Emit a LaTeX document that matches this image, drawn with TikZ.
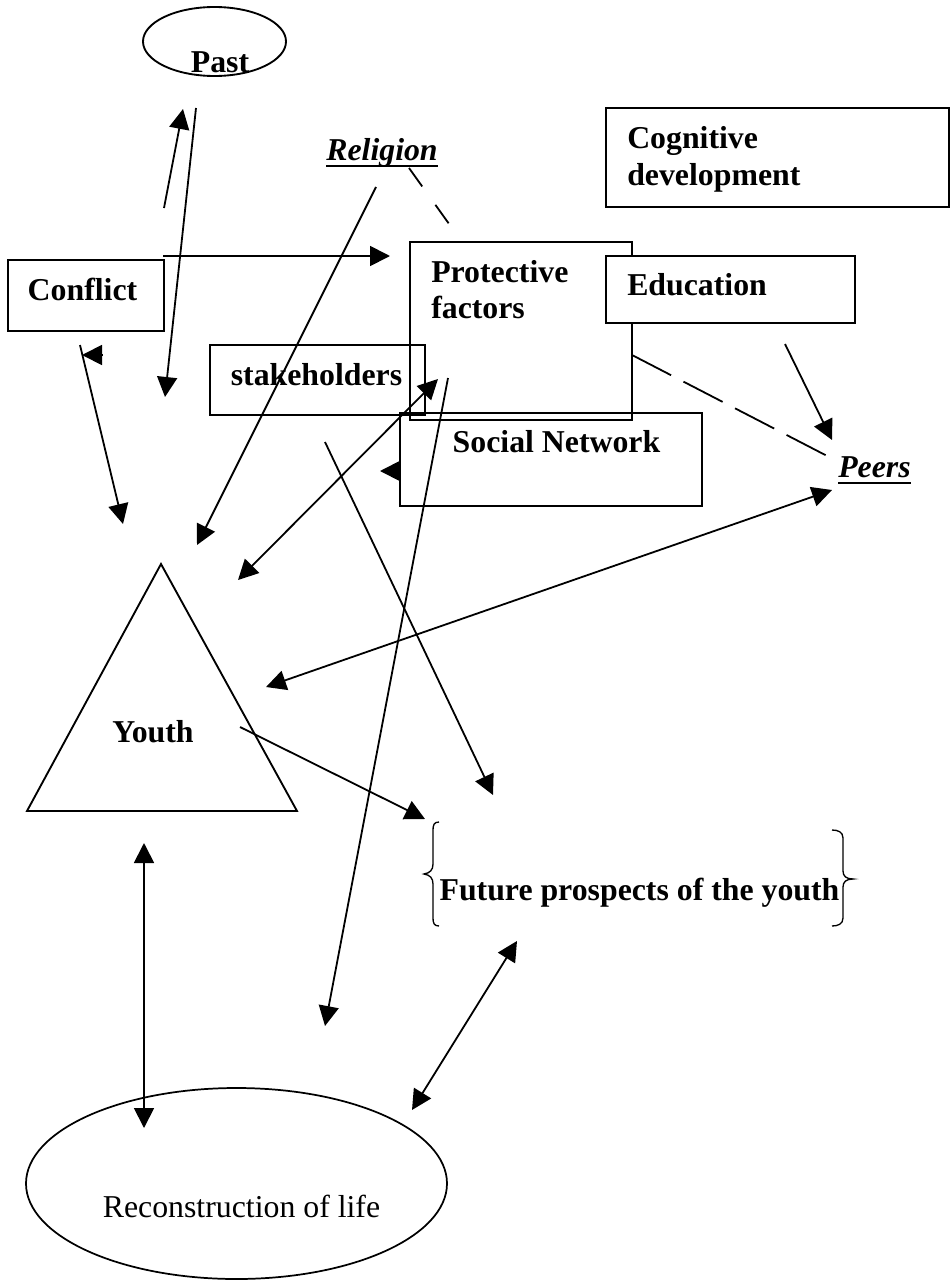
\documentclass[tikz,border=0pt]{standalone}
\usepackage{fontspec}
\setmainfont{Liberation Serif}
\usetikzlibrary{arrows.meta,shapes.geometric}
\newcommand\ulx[1]{\setbox0\hbox{#1}\rlap{\rule[-5.25pt]{\wd0}{1.6pt}}\box0}
\begin{document}
\begin{tikzpicture}[x=0.75pt,y=-0.75pt,
  lbl/.style={inner sep=0pt, font=\fontsize{23.85}{27}\selectfont\bfseries},
  plain/.style={inner sep=0pt, font=\fontsize{23.85}{27}\selectfont},
  box/.style={draw, line width=1.6pt, rectangle, inner sep=0pt},
  oval/.style={draw, line width=1.4pt, ellipse, inner sep=0pt},
  conn/.style={line width=1.35pt},
  arr/.style={conn, -{Triangle[length=15pt,width=15pt]}},
  darr/.style={conn, {Triangle[length=15pt,width=15pt]}-{Triangle[length=15pt,width=15pt]}},
  brace/.style={line width=1pt},
]
\useasboundingbox (0,0) rectangle (951,1281);

% ---- shapes ----
\node[oval, minimum width=107.25pt, minimum height=51.75pt] (past) at (214.5,41.5) {};
\node[box, minimum width=117pt, minimum height=53.25pt] (conflict) at (86,295.5) {};
\node[box, minimum width=257.25pt, minimum height=74.25pt] (cog) at (777.5,157.5) {};
\node[box, minimum width=166.5pt, minimum height=133.5pt] (prot) at (521,331) {};
\node[box, fill=white, minimum width=186.75pt, minimum height=50.25pt] (edu) at (730.5,289.5) {};
\node[box, minimum width=161.25pt, minimum height=52.5pt] (stk) at (317.5,380) {};
\node[box, minimum width=226.5pt, minimum height=69.75pt] (soc) at (551,459.5) {};
\coordinate (ytop) at (161,564);
\coordinate (yright) at (297,811);
\coordinate (yleft) at (27,811);
\draw[line width=1.4pt] (ytop) -- (yright) -- (yleft) -- cycle;
\node[oval, line width=1.3pt, minimum width=315.75pt, minimum height=143.25pt] (recon) at (236.5,1183.5) {};

% ---- texts ----
\node[lbl, anchor=base] (pastT) at (220,72.5) {Past};
\node[lbl, anchor=base] (religion) at (382,160) {\itshape\ulx{Religion}};
\node[lbl, anchor=base] (conflictT) at (82.5,300) {Conflict};
\node[lbl, anchor=base west] (cogT1) at (627,148) {Cognitive};
\node[lbl, anchor=base west] (cogT2) at (627,185) {development};
\node[lbl, anchor=base west] (protT1) at (431,282) {Protective};
\node[lbl, anchor=base west] (protT2) at (431,318) {factors};
\node[lbl, anchor=base west] (eduT) at (627,295) {Education};
\node[lbl, anchor=base] (stkT) at (316.5,385) {stakeholders};
\node[lbl, anchor=base] (socT) at (556.5,452) {Social Network};
\node[lbl, anchor=base] (peers) at (874.5,477) {\itshape\ulx{Peers}};
\node[lbl, anchor=base] (youth) at (153,742) {Youth};
\node[lbl, anchor=base] (future) at (639.5,900) {Future prospects of the youth};
\node[plain, anchor=base] (reconT) at (241.5,1217) {Reconstruction of life};

% ---- braces ----
\draw[brace] (439,822) .. controls (434,822) and (433,825) .. (433,830) -- (433,864)
  .. controls (433,870) and (430,873) .. (424,874)
  .. controls (430,875) and (433,878) .. (433,884) -- (433,918)
  .. controls (433,923) and (434,926) .. (439,926);
\draw[brace] (832,830) .. controls (838,830) and (843,832) .. (843,838) -- (843,871)
  .. controls (843,876) and (846,879) .. (853,879)
  .. controls (846,879) and (843,882) .. (843,887) -- (843,918)
  .. controls (843,924) and (838,926) .. (832,926);

% ---- connector end points ----
\coordinate (pastUpS) at (164,208);  \coordinate (pastUpE) at (183,109);
\coordinate (pastDnS) at (196,108);  \coordinate (pastDnE) at (165,397);
\coordinate (conflR) at (163,256);   \coordinate (protL) at (390,256);
\coordinate (conflD) at (80,345);    \coordinate (youthA) at (123,524);
\coordinate (headAs) at (102,355);   \coordinate (headAe) at (82,355);
\coordinate (relS) at (376,187);     \coordinate (youthB) at (197,545);
\coordinate (relD) at (409,168);     \coordinate (protTop) at (462,242);
\coordinate (stkE) at (438,379);     \coordinate (youthC) at (238,580);
\coordinate (protD) at (448,378);    \coordinate (reconA) at (325,1026);
\coordinate (headBs) at (400,471);   \coordinate (headBe) at (380,471);
\coordinate (stkD) at (325,442);     \coordinate (futA) at (493,795);
\coordinate (eduD) at (785,344);     \coordinate (peersA) at (832,440);
\coordinate (protR) at (632,355);    \coordinate (peersB) at (833,459);
\coordinate (peersC) at (832,490);   \coordinate (youthD) at (266,687);
\coordinate (youthE) at (240,727);   \coordinate (futB) at (425,819);
\coordinate (youthF) at (144,843);   \coordinate (reconB) at (144,1128);
\coordinate (futC) at (517,941);     \coordinate (reconC) at (412,1110);

% ---- connectors ----
\draw[arr] (pastUpS) -- (pastUpE);
\draw[arr] (pastDnS) -- (pastDnE);
\draw[arr] (conflR) -- (protL);
\draw[arr] (conflD) -- (youthA);
\draw[arr] (headAs) -- (headAe);
\draw[arr] (relS) -- (youthB);
\draw[conn, dash pattern=on 17pt off 17pt] (relD) -- (protTop);
\draw[darr] (stkE) -- (youthC);
\draw[arr] (protD) -- (reconA);
\draw[arr] (headBs) -- (headBe);
\draw[arr] (stkD) -- (futA);
\draw[arr] (eduD) -- (peersA);
\draw[conn, dash pattern=on 33pt off 10.5pt] (protR) -- (peersB);
\draw[darr] (peersC) -- (youthD);
\draw[arr] (youthE) -- (futB);
\draw[darr] (youthF) -- (reconB);
\draw[darr] (futC) -- (reconC);
\end{tikzpicture}
\end{document}
